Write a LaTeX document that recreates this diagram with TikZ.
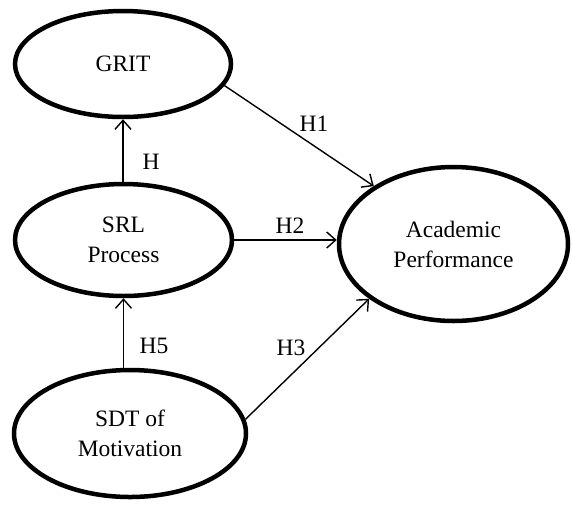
\documentclass[tikz,border=0pt]{standalone}
\usepackage{fontspec}
\setmainfont{Liberation Serif}
\usetikzlibrary{shapes.geometric,arrows.meta}
\begin{document}
\begin{tikzpicture}[x=1pt,y=-1pt,
  construct/.style={ellipse,draw,line width=4.5pt,inner sep=0pt,align=center,
    font=\fontsize{23.5}{30}\selectfont},
  arr/.style={line width=1.4pt,-{Straight Barb[length=9pt,width=16pt,line width=1.4pt]}},
  lbl/.style={font=\fontsize{23.5}{30}\selectfont,inner sep=0pt}]
\useasboundingbox (0,0) rectangle (572,504);
\node[construct,minimum width=216pt,minimum height=106pt] (grit) at (123,64) {GRIT};
\node[construct,minimum width=217pt,minimum height=112pt] (srl) at (123.5,240) {SRL\\Process};
\node[construct,minimum width=232pt,minimum height=127pt] (sdt) at (130,433.5) {SDT of\\Motivation};
\node[construct,minimum width=229pt,minimum height=154pt] (ap) at (453.5,244) {Academic\\Performance};
\draw[arr] (grit.south |- srl.north) -- (grit.south);
\draw[arr] (grit.-12) -- (ap.144);
\draw[arr] (srl.east) -- (ap.west |- srl.east);
\draw[arr] (sdt.7) -- (ap.213);
\draw[arr] (srl.south |- sdt.north) -- (srl.south);
\node[lbl] (lh) at (151,162) {H};
\node[lbl] (lh1) at (314,124) {H1};
\node[lbl] (lh2) at (290,226) {H2};
\node[lbl] (lh3) at (291,348) {H3};
\node[lbl] (lh5) at (154,346) {H5};
\end{tikzpicture}
\end{document}
